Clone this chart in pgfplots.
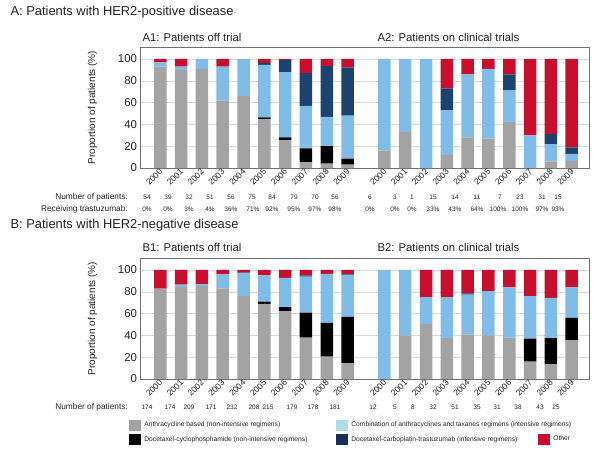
\documentclass[border=0pt]{standalone}
\usepackage{pgfplots}
\pgfplotsset{compat=1.18}
\usepackage{pgfplotstable}
\usepackage{fontspec}
\setmainfont{Liberation Sans}
\definecolor{cgray}{HTML}{A3A3A3}
\definecolor{cblue}{HTML}{80BCE8}
\definecolor{cnavy}{HTML}{1C426F}
\definecolor{cred}{HTML}{C8102E}
\definecolor{lblue}{HTML}{B0DCE8}
\definecolor{lnavy}{HTML}{1A2C5B}
\definecolor{cgrid}{HTML}{DADADA}
\definecolor{cframe}{HTML}{707070}
\definecolor{ctext}{HTML}{222222}

\pgfplotstableread{
x g k b n r
0 93 0 4 0 3
1 90 0 3 0 7
2 91 0 9 0 0
3 62 0 31 0 7
4 66 0 34 0 0
5 45 1.5 48 2 3.5
6 25.5 2.5 60 11 1
7 5.5 12.5 39 30 13
8 4 16 27 46.5 6.5
9 3 5.5 39.5 44 8
10.77 16 0 84 0 0
11.77 33 0 67 0 0
12.77 0 0 100 0 0
13.77 12 0 41 20 27
14.77 28 0 58 0 14
15.77 27 0 64 0 9
16.77 42 0 29.5 14.5 14
17.77 0 0 30 0 70
18.77 6 0 16 9 69
19.77 6.5 0 6.5 6 81
}\Adata

\pgfplotstableread{
x g k b n r
0 83 0 0 0 17
1 84.5 0 2 0 13.5
2 85.5 0 1.5 0 13
3 83 0 13 0 4
4 76 0 21 0.5 2.5
5 69 2 24 0 5
6 62 4 26.7 0 7.3
7 38 23 33 1 5
8 20.5 31 45 0 3.5
9 14.5 42.5 38.5 0.5 4
10.77 0 0 100 0 0
11.77 40 0 60 0 0
12.77 50.5 0 24.5 0 25
13.77 37.5 0 37.5 0 25
14.77 41 0 36.5 1 21.5
15.77 40 0 40.5 0 19.5
16.77 38 0 46 0 16
17.77 16 21 39 0 24
18.77 13.5 24 37 0 25.5
19.77 35.5 20.5 28 0 16
}\Bdata

\pgfplotsset{
  sq/.style={legend image code/.code={\fill[#1] (0pt,-5.25pt) rectangle (11pt,5.25pt);}},
  panel/.style={
    scale only axis, width=448.5pt, height=121pt,
    xmin=-0.95, xmax=20.6, ymin=0, ymax=111,
    ybar stacked, bar width=12.5pt,
    ytick={0,20,40,60,80,100},
    xtick={0,1,2,3,4,5,6,7,8,9,10.77,11.77,12.77,13.77,14.77,15.77,16.77,17.77,18.77,19.77},
    xticklabels={2000,2001,2002,2003,2004,2005,2006,2007,2008,2009,2000,2001,2002,2003,2004,2005,2006,2007,2008,2009},
    ymajorgrids, grid style={draw=cgrid, line width=0.5pt},
    axis line style={draw=cframe, line width=0.6pt},
    tick style={draw=none},
    /pgf/number format/assume math mode=true,
    yticklabel style={font=\fontsize{11.4}{12}\selectfont, text=ctext},
    xticklabel style={font=\fontsize{8.5}{10}\selectfont, text=ctext, rotate=45, anchor=east, inner sep=1pt, yshift=-2pt},
    ylabel={Proportion of patients (\%)},
    ylabel style={at={(axis description cs:-0.107,0.5)}, anchor=center, font=\fontsize{10}{12}\selectfont, text=ctext},
    clip=false,
  },
  legpage/.style={hide axis, scale only axis, width=600pt, height=451pt, at={(0pt,0pt)}, anchor=south west,
    xmin=0, xmax=600, ymin=0, ymax=451,
    legend cell align=left,
    legend style={at={(axis cs:#1)}, anchor=north west, draw=none, fill=none,
      font=\fontsize{6.7}{8}\selectfont, text=ctext, inner sep=0pt, outer sep=0pt,
      nodes={inner sep=0pt}, column sep=4pt, row sep=3.5pt}},
}

\begin{document}
\begin{tikzpicture}[x=1pt,y=1pt]
\useasboundingbox (0,0) rectangle (600,451);

% Panel A
\begin{axis}[panel, at={(140.5pt,283pt)}, anchor=south west]
\addplot[fill=cgray, draw=none] table[x=x,y=g] {\Adata};
\addplot[fill=black, draw=none] table[x=x,y=k] {\Adata};
\addplot[fill=cblue, draw=none] table[x=x,y=b] {\Adata};
\addplot[fill=cnavy, draw=none] table[x=x,y=n] {\Adata};
\addplot[fill=cred, draw=none] table[x=x,y=r] {\Adata};
\end{axis}

% Panel B
\begin{axis}[panel, at={(140.5pt,72pt)}, anchor=south west]
\addplot[fill=cgray, draw=none] table[x=x,y=g] {\Bdata};
\addplot[fill=black, draw=none] table[x=x,y=k] {\Bdata};
\addplot[fill=cblue, draw=none] table[x=x,y=b] {\Bdata};
\addplot[fill=cnavy, draw=none] table[x=x,y=n] {\Bdata};
\addplot[fill=cred, draw=none] table[x=x,y=r] {\Bdata};
\end{axis}

% Legends
\begin{axis}[legpage={129,31.5}]
\addlegendimage{sq=cgray}
\addlegendentry{Anthracycline based (non-intensive regimens)}
\addlegendimage{sq=black}
\addlegendentry{Docetaxel-cyclophosphamide (non-intensive regimens)}
\end{axis}
\begin{axis}[legpage={336,31.5}]
\addlegendimage{sq=lblue}
\addlegendentry{Combination of anthracyclines and taxanes regimens (intensive regimens)}
\addlegendimage{sq=lnavy}
\addlegendentry{Docetaxel-carboplatin-trastuzumab (intensive regimens)}
\end{axis}
\begin{axis}[legpage={538,17.5}]
\addlegendimage{sq=cred}
\addlegendentry{Other}
\end{axis}

% Titles
\node[anchor=west, font=\fontsize{12.9}{14}\selectfont, text=ctext] at (7,439) {A: Patients with HER2-positive disease};
\node[anchor=west, font=\fontsize{11.3}{12}\selectfont, text=ctext] at (139,414) {A1: Patients off trial};
\node[anchor=west, font=\fontsize{11.3}{12}\selectfont, text=ctext] at (374,414) {A2: Patients on clinical trials};
\node[anchor=west, font=\fontsize{12.9}{14}\selectfont, text=ctext] at (7,226) {B: Patients with HER2-negative disease};
\node[anchor=west, font=\fontsize{11.3}{12}\selectfont, text=ctext] at (139,204) {B1: Patients off trial};
\node[anchor=west, font=\fontsize{11.3}{12}\selectfont, text=ctext] at (374,204) {B2: Patients on clinical trials};

% Row labels
\node[anchor=east, font=\fontsize{8.3}{9}\selectfont, text=ctext, inner sep=0pt] at (128,254) {Number of patients:};
\node[anchor=east, font=\fontsize{8.3}{9}\selectfont, text=ctext, inner sep=0pt] at (128,242) {Receiving trastuzumab:};
\node[anchor=east, font=\fontsize{8.3}{9}\selectfont, text=ctext, inner sep=0pt] at (128,44) {Number of patients:};

\foreach \p/\v in {147/54,168/39,189/32,210/51,231/56,252/75,272/84,294/79,315/70,335/56,370/6,395/3,412/1,433/15,455/14,477/11,500/7,520/23,542/31,558/15}
  \node[font=\fontsize{6.5}{7}\selectfont, text=ctext] at (\p,254) {\v};
\foreach \p/\v in {147/0,168/0,189/3,210/4,231/36,253/71,272/92,294/95,315/97,335/98,370/0,395/0,412/0,433/33,455/43,477/64,498/100,520/100,542/97,558/93}
  \node[font=\fontsize{6.5}{7}\selectfont, text=ctext] at (\p,242) {\v\%};
\foreach \p/\v in {147/174,170/174,189/209,211/171,232/232,254/208,268/215,292/179,313/178,335/181,373/12,395/5,413/8,433/32,455/51,477/35,497/31,518/38,540/43,556/25}
  \node[font=\fontsize{6.5}{7}\selectfont, text=ctext] at (\p,44) {\v};
\end{tikzpicture}
\end{document}
